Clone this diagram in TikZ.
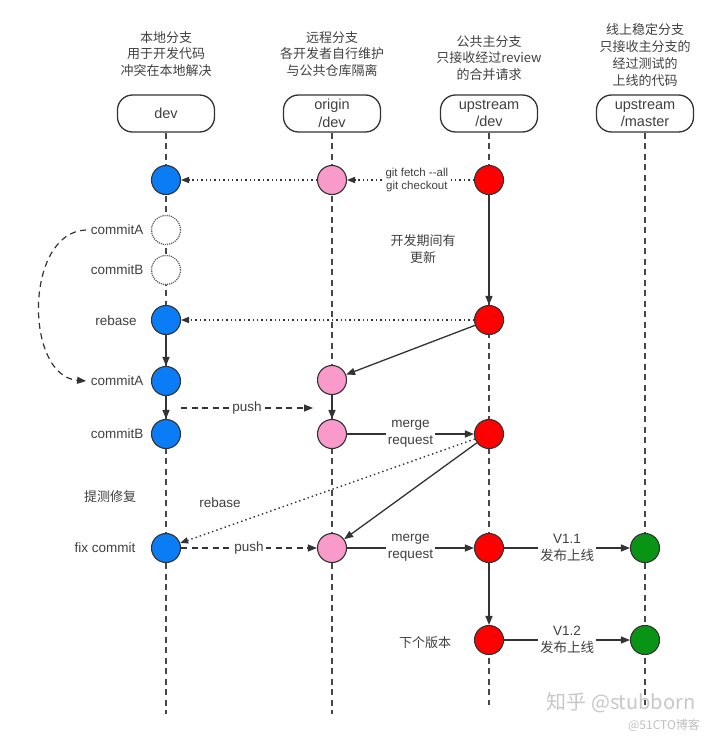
\documentclass[tikz,border=0pt]{standalone}
\usepackage{fontspec}
\setmainfont{Liberation Sans}
\newfontfamily\cjk{Noto Sans CJK SC}
\usetikzlibrary{arrows.meta}
\definecolor{cblue}{HTML}{0A7CF6}
\definecolor{cpink}{HTML}{FA9ACB}
\definecolor{cred}{HTML}{FF0000}
\definecolor{cgreen}{HTML}{0A9416}
\definecolor{linec}{HTML}{333333}
\definecolor{txt}{HTML}{404040}
\tikzset{
  headbox/.style={draw=linec, line width=1.3pt, rounded corners=15pt, minimum width=97pt, minimum height=37pt, inner sep=0pt, font=\fontsize{14.5}{17.5}\selectfont, align=center, text=txt},
  desc/.style={font=\cjk\fontsize{13}{16.7}\selectfont, align=center, text=txt},
  lbl/.style={font=\fontsize{13.5}{16.5}\selectfont, align=center, text=txt, inner sep=1.5pt},
  onl/.style={lbl, fill=white, inner sep=2pt},
  commit/.style={circle, draw=linec, line width=1.1pt, minimum size=29pt, inner sep=0pt},
  bluec/.style={commit, fill=cblue},
  pinkc/.style={commit, fill=cpink},
  redc/.style={commit, fill=cred},
  greenc/.style={commit, fill=cgreen},
  ghost/.style={commit, fill=white, densely dotted, draw=linec!80, line width=1.3pt},
  life/.style={draw=linec!90, line width=1.2pt, dash pattern=on 6pt off 4.5pt},
  flow/.style={draw=linec, line width=1.3pt, -{Triangle[length=9pt,width=7pt]}},
  dotflow/.style={draw=linec, line width=1.4pt, dash pattern=on 1.4pt off 3pt, -{Triangle[length=8pt,width=6.5pt,line width=0pt]}},
  dashflow/.style={draw=linec, line width=1.2pt, dash pattern=on 6pt off 4.5pt, -{Triangle[length=9pt,width=7pt]}},
}
\begin{document}
\begin{tikzpicture}[x=1pt,y=-1pt]
\useasboundingbox (0,0) rectangle (720,736);
% headers
\node[desc] (t1) at (166,54) {本地分支\\用于开发代码\\冲突在本地解决};
\node[desc] (t2) at (332,54) {远程分支\\各开发者自行维护\\与公共仓库隔离};
\node[desc] (t3) at (489,58) {公共主分支\\只接收经过review\\的合并请求};
\node[desc] (t4) at (645,55) {线上稳定分支\\只接收主分支的\\经过测试的\\上线的代码};
\node[headbox] (hdev) at (166,113.5) {dev};
\node[headbox] (horig) at (332,113.5) {origin\\/dev};
\node[headbox] (hup) at (489,113.5) {upstream\\/dev};
\node[headbox] (hmas) at (645,113.5) {upstream\\/master};
% lifeline ends
\coordinate (edev) at (166,714);
\coordinate (eorig) at (332,714);
\coordinate (eup) at (489,705);
\coordinate (emas) at (645,705);
\draw[life] (hdev.south) -- (edev);
\draw[life] (horig.south) -- (eorig);
\draw[life] (hup.south) -- (eup);
\draw[life] (hmas.south) -- (emas);
% commits
\node[bluec] (d1) at (166,180) {};
\node[ghost] (gA) at (166,230) {};
\node[ghost] (gB) at (166,270) {};
\node[bluec] (d2) at (166,320) {};
\node[bluec] (d3) at (166,381) {};
\node[bluec] (d4) at (166,434) {};
\node[bluec] (d5) at (166,548) {};
\node[pinkc] (o1) at (332,180) {};
\node[pinkc] (o2) at (332,380) {};
\node[pinkc] (o3) at (332,434) {};
\node[pinkc] (o4) at (332,548) {};
\node[redc] (u1) at (489,180) {};
\node[redc] (u2) at (489,320) {};
\node[redc] (u3) at (489,434) {};
\node[redc] (u4) at (489,548) {};
\node[redc] (u5) at (489,640) {};
\node[greenc] (m1) at (645,548) {};
\node[greenc] (m2) at (645,640) {};
% left labels
\node[lbl, anchor=east] (lA) at (145,230) {commitA};
\node[lbl, anchor=east] (lB) at (145,270) {commitB};
\node[lbl] (lR) at (116,321) {rebase};
\node[lbl, anchor=east] (lA2) at (145,381) {commitA};
\node[lbl, anchor=east] (lB2) at (145,434) {commitB};
\node[lbl, font=\cjk\fontsize{13}{16}\selectfont] (lT) at (110,497) {提测修复};
\node[lbl, anchor=east] (lF) at (137,548) {fix commit};
\node[lbl, font=\cjk\fontsize{13}{16.5}\selectfont] (lU) at (423,249) {开发期间有\\更新};
\node[lbl, font=\cjk\fontsize{13}{16}\selectfont] (lN) at (425,643) {下个版本};
\node[lbl] (lRb) at (220,503) {rebase};
% connectors
\draw[dotflow] (o1) -- (d1);
\draw[dotflow] (u1) -- node[pos=0.45, fill=white, inner sep=1pt, font=\fontsize{11.5}{13}\selectfont, text=txt, align=center] {git fetch {-}{-}all\\git checkout} (o1);
\draw[flow] (u1) -- (u2);
\draw[dotflow] (u2) -- (d2);
\draw[flow] (u2) -- (o2);
\draw[flow] (d2) -- (d3);
\draw[flow] (d3) -- (d4);
\draw[flow] (o2) -- (o3);
\draw[dashflow] ([xshift=-3pt]lA.west) .. controls +(-62,2) and +(-62,-5) .. ([xshift=-3pt]lA2.west);
\coordinate (p1s) at (181,408);
\coordinate (p1e) at (313,408);
\draw[dashflow] (p1s) -- node[onl] {push} (p1e);
\draw[flow] (o3) -- node[onl] {merge\\request} (u3);
\draw[dotflow] (u3) -- (d5);
\draw[flow] (u3) -- (o4);
\draw[dashflow] (d5) -- node[onl] {push} (o4);
\draw[flow] (o4) -- node[onl] {merge\\request} (u4);
\draw[flow] (u4) -- node[onl] {V1.1\\{\cjk 发布上线}} (m1);
\draw[flow] (u4) -- (u5);
\draw[flow] (u5) -- node[onl] {V1.2\\{\cjk 发布上线}} (m2);
% watermarks
\node[font=\cjk\fontsize{20}{22}\selectfont, text=black!22] (w1) at (621,703) {知乎 @stubborn};
\node[font=\cjk\fontsize{12}{14}\selectfont, text=black!25] (w2) at (664,725) {@51CTO博客};
\end{tikzpicture}
\end{document}
